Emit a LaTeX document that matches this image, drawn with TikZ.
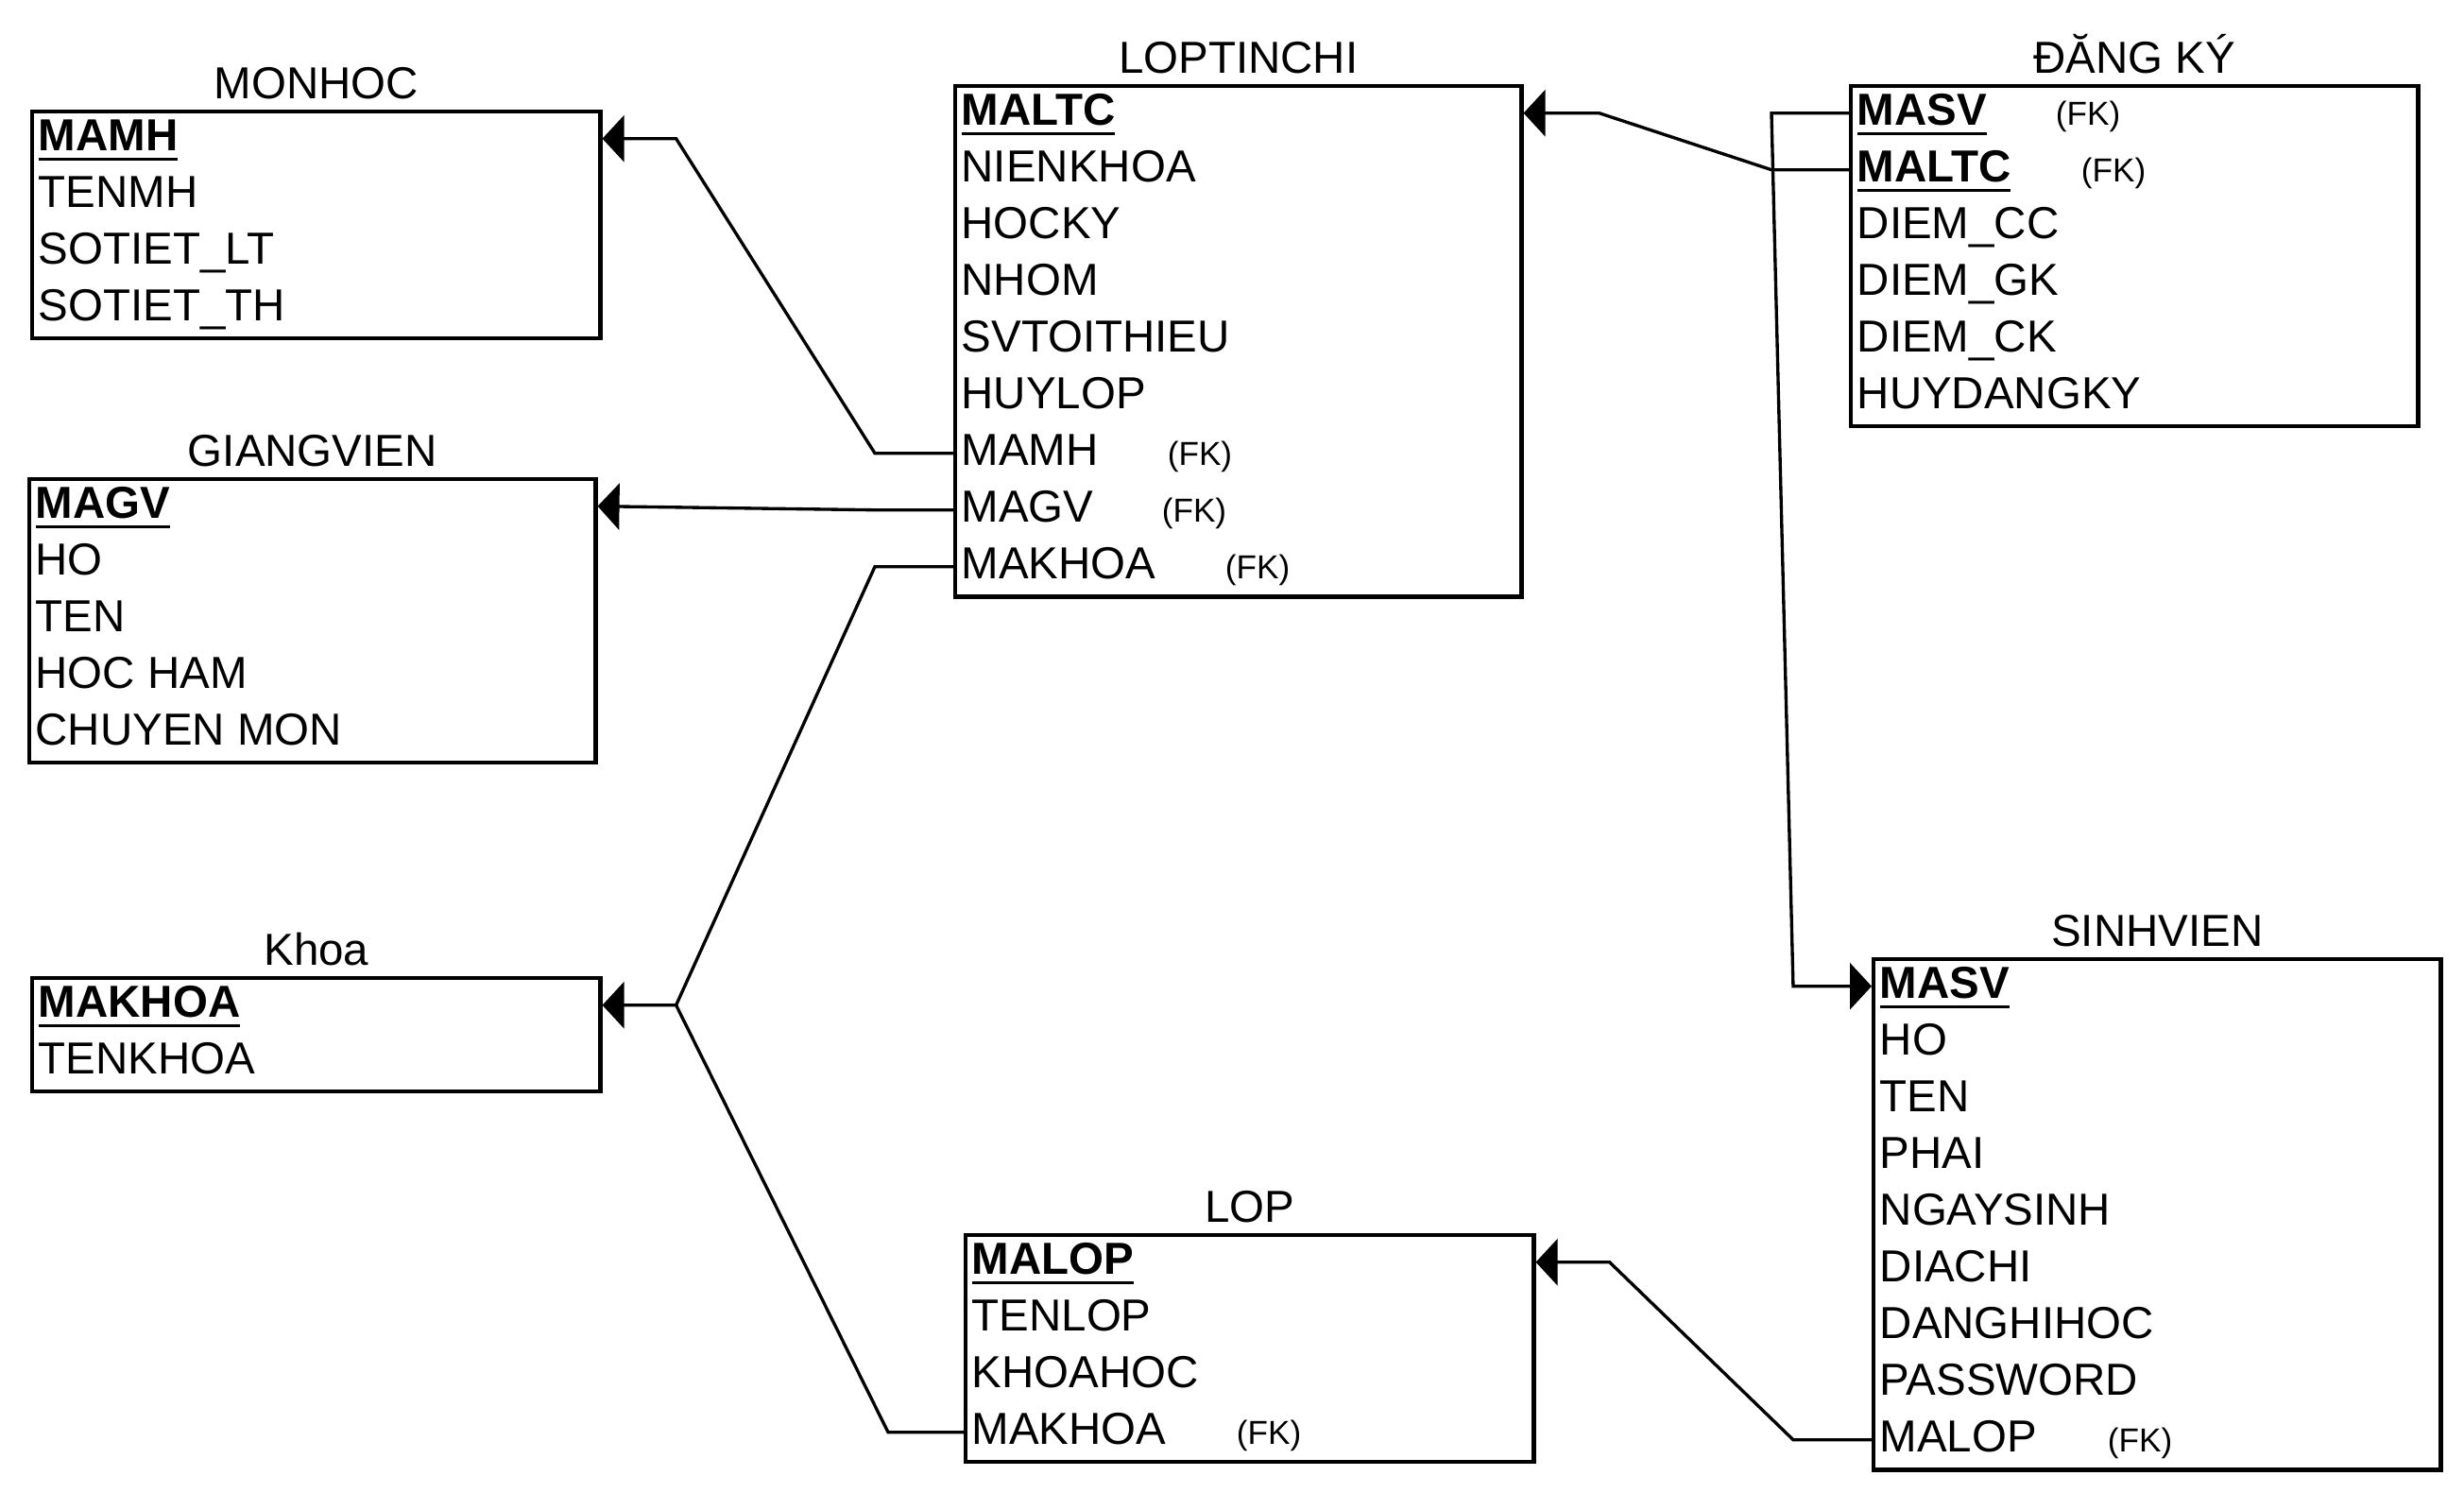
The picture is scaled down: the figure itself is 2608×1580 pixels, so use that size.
\documentclass[tikz,border=0pt]{standalone}
\usepackage{fontspec}
\setmainfont{Liberation Sans}
\usetikzlibrary{arrows.meta,positioning}
\newcommand{\erkey}[1]{\setbox0=\hbox{\bfseries #1}\rlap{\rule[-2.99pt]{\wd0}{0.85pt}}\box0}
\newcommand{\erfk}[2]{\makebox[#1][l]{#2}{\fontsize{10}{12}\selectfont(FK)}}
\tikzset{
  er/table/.style={
    draw=black,
    line width=1.2pt,
    anchor=north west,
    inner sep=0pt
  },
  er/field/.style={
    anchor=north west,
    minimum height=0.6cm,
    inner xsep=0.08cm,
    inner ysep=0pt,
    text height=0.35cm,
    text depth=0.09cm,
    font=\fontsize{13.5}{16}\selectfont
  },
  er/title/.style={inner sep=0pt, text depth=0pt, font=\fontsize{13.5}{16}\selectfont},
  er/link/.style={line width=0.95pt, draw=black},
  er/ref/.style={er/link, -{Triangle[length=0.23cm,width=0.49cm]}}
}
\begin{document}
\begin{tikzpicture}[x=0.01cm,y=-0.01cm]
  \useasboundingbox (0,0) rectangle (2608,1580);

  % MONHOC
  \node[er/table, minimum width=6.01cm, minimum height=2.4cm] (monhoc) at (32,116) {};
  \node[er/title, above=0.11cm of monhoc] (monhoc-title) {MONHOC};
  \node[er/field] (mh-mamh) at (32,116) {\erkey{MAMH}};
  \node[er/field] (mh-tenmh) at (32,176) {TENMH};
  \node[er/field] (mh-sotietlt) at (32,236) {SOTIET\_LT};
  \node[er/field] (mh-sotietth) at (32,296) {SOTIET\_TH};

  % GIANGVIEN
  \node[er/table, minimum width=5.99cm, minimum height=3.0cm] (giangvien) at (29,505) {};
  \node[er/title, above=0.11cm of giangvien] (giangvien-title) {GIANGVIEN};
  \node[er/field] (gv-magv) at (29,505) {\erkey{MAGV}};
  \node[er/field] (gv-ho) at (29,565) {HO};
  \node[er/field] (gv-ten) at (29,625) {TEN};
  \node[er/field] (gv-hocham) at (29,685) {HOC HAM};
  \node[er/field] (gv-chuyenmon) at (29,745) {CHUYEN MON};

  % Khoa
  \node[er/table, minimum width=6.01cm, minimum height=1.2cm] (khoa) at (32,1033) {};
  \node[er/title, above=0.11cm of khoa] (khoa-title) {Khoa};
  \node[er/field] (kh-makhoa) at (32,1033) {\erkey{MAKHOA}};
  \node[er/field] (kh-tenkhoa) at (32,1093) {TENKHOA};

  % LOPTINCHI
  \node[er/table, minimum width=5.99cm, minimum height=5.4cm] (loptinchi) at (1009,89) {};
  \node[er/title, above=0.11cm of loptinchi] (loptinchi-title) {LOPTINCHI};
  \node[er/field] (lt-maltc) at (1009,89) {\erkey{MALTC}};
  \node[er/field] (lt-nienkhoa) at (1009,149) {NIENKHOA};
  \node[er/field] (lt-hocky) at (1009,209) {HOCKY};
  \node[er/field] (lt-nhom) at (1009,269) {NHOM};
  \node[er/field] (lt-svtoithieu) at (1009,329) {SVTOITHIEU};
  \node[er/field] (lt-huylop) at (1009,389) {HUYLOP};
  \node[er/field] (lt-mamh) at (1009,449) {\erfk{2.18cm}{MAMH}};
  \node[er/field] (lt-magv) at (1009,509) {\erfk{2.12cm}{MAGV}};
  \node[er/field] (lt-makhoa) at (1009,569) {\erfk{2.79cm}{MAKHOA}};

  % DANG KY
  \node[er/table, minimum width=6.0cm, minimum height=3.6cm] (dangky) at (1957,89) {};
  \node[er/title, above=0.11cm of dangky] (dangky-title) {ĐĂNG KÝ};
  \node[er/field] (dk-masv) at (1957,89) {\erfk{2.10cm}{\erkey{MASV}}};
  \node[er/field] (dk-maltc) at (1957,149) {\erfk{2.37cm}{\erkey{MALTC}}};
  \node[er/field] (dk-diemcc) at (1957,209) {DIEM\_CC};
  \node[er/field] (dk-diemgk) at (1957,269) {DIEM\_GK};
  \node[er/field] (dk-diemck) at (1957,329) {DIEM\_CK};
  \node[er/field] (dk-huydangky) at (1957,389) {HUYDANGKY};

  % SINHVIEN
  \node[er/table, minimum width=6.0cm, minimum height=5.4cm] (sinhvien) at (1981,1013) {};
  \node[er/title, above=0.11cm of sinhvien] (sinhvien-title) {SINHVIEN};
  \node[er/field] (sv-masv) at (1981,1013) {\erkey{MASV}};
  \node[er/field] (sv-ho) at (1981,1073) {HO};
  \node[er/field] (sv-ten) at (1981,1133) {TEN};
  \node[er/field] (sv-phai) at (1981,1193) {PHAI};
  \node[er/field] (sv-ngaysinh) at (1981,1253) {NGAYSINH};
  \node[er/field] (sv-diachi) at (1981,1313) {DIACHI};
  \node[er/field] (sv-danghihoc) at (1981,1373) {DANGHIHOC};
  \node[er/field] (sv-password) at (1981,1433) {PASSWORD};
  \node[er/field] (sv-malop) at (1981,1493) {\erfk{2.41cm}{MALOP}};

  % LOP
  \node[er/table, minimum width=6.01cm, minimum height=2.4cm] (lop) at (1020,1305) {};
  \node[er/title, above=0.11cm of lop] (lop-title) {LOP};
  \node[er/field] (lop-malop) at (1020,1305) {\erkey{MALOP}};
  \node[er/field] (lop-tenlop) at (1020,1365) {TENLOP};
  \node[er/field] (lop-khoahoc) at (1020,1425) {KHOAHOC};
  \node[er/field] (lop-makhoa) at (1020,1485) {\erfk{2.80cm}{MAKHOA}};

  % references
  \draw[er/ref] (lt-mamh.west) -- ++(-83,0) -- ([xshift=0.78cm]mh-mamh -| monhoc.east) -- (mh-mamh -| monhoc.east);
  \draw[er/ref] (lt-magv.west) -- ++(-83,0) -- (gv-magv -| giangvien.east);
  \coordinate (kh-join) at ([xshift=0.78cm]kh-makhoa -| khoa.east);
  \draw[er/ref] (lt-makhoa.west) -- ++(-83,0) -- (kh-join) -- (kh-makhoa -| khoa.east);
  \draw[er/link] (lop-makhoa.west) -- ++(-80,0) -- (kh-join);
  \draw[er/ref] (dk-maltc.west) -- ++(-82,0) -- ([xshift=0.80cm]lt-maltc -| loptinchi.east) -- (lt-maltc -| loptinchi.east);
  \draw[er/ref] (dk-masv.west) -- ++(-82,0) -- ([xshift=-0.83cm]sv-masv.west) -- (sv-masv.west);
  \draw[er/ref] (sv-malop.west) -- ++(-83,0) -- ([xshift=0.78cm]lop-malop -| lop.east) -- (lop-malop -| lop.east);
\end{tikzpicture}
\end{document}
